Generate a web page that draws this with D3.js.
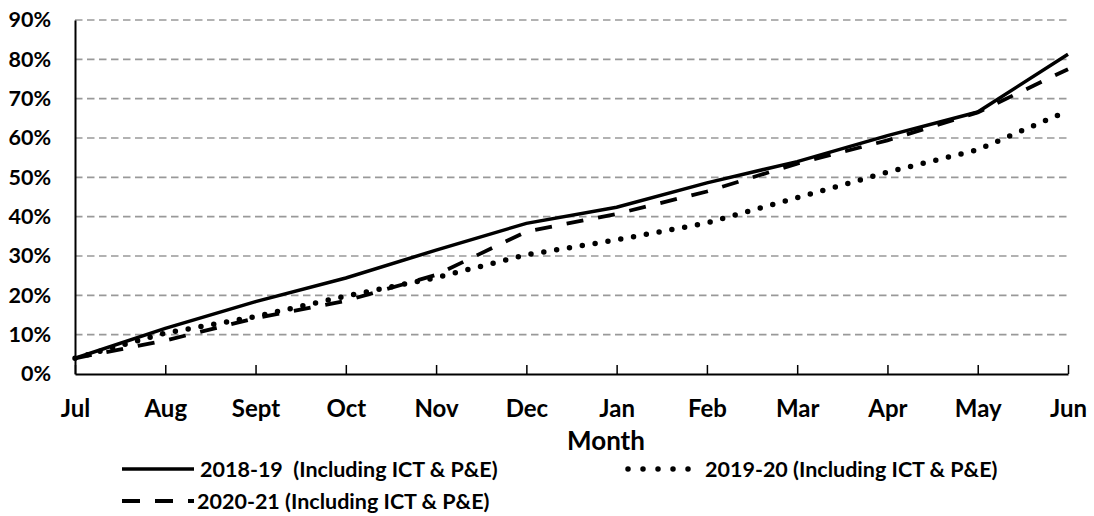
<!DOCTYPE html>
<html>
<head>
<meta charset="utf-8">
<script src="https://cdn.jsdelivr.net/npm/d3@7"></script>
<style>
  body { margin: 0; background: #fff; }
  text { font-family: Lato, "Liberation Sans", sans-serif; font-weight: bold; fill: #000; white-space: pre; }
</style>
</head>
<body>
<div id="chart"></div>
<script>
var months = ["Jul", "Aug", "Sept", "Oct", "Nov", "Dec", "Jan", "Feb", "Mar", "Apr", "May", "Jun"];
var s1819 = [0.04, 0.116, 0.184, 0.244, 0.315, 0.383, 0.424, 0.486, 0.54, 0.606, 0.666, 0.813];
var s1920 = [0.04, 0.104, 0.146, 0.198, 0.245, 0.303, 0.341, 0.384, 0.448, 0.513, 0.57, 0.669];
var s2021 = [0.04, 0.085, 0.142, 0.186, 0.252, 0.362, 0.407, 0.464, 0.535, 0.594, 0.665, 0.775];
var yTicks = [0, 0.1, 0.2, 0.3, 0.4, 0.5, 0.6, 0.7, 0.8, 0.9];
var seriesNames = ["2018-19  (Including ICT & P&E)", "2019-20 (Including ICT & P&E)", "2020-21 (Including ICT & P&E)"];

var width = 1094, height = 516;
var margin = { top: 20, right: 26, bottom: 142, left: 75 };
var w = width - margin.left - margin.right,
    h = height - margin.top - margin.bottom;

var svg = d3.select("#chart").append("svg")
    .attr("width", width)
    .attr("height", height);

var g = svg.append("g")
    .attr("transform", "translate(" + margin.left + "," + margin.top + ")");

var x = d3.scalePoint().domain(months).range([0, w]);
var y = d3.scaleLinear().domain([0, 0.9]).range([h, 0]);

// grid lines
g.selectAll(".grid")
  .data(yTicks.slice(1))
  .enter().append("line")
    .attr("x1", 0).attr("x2", w)
    .attr("y1", function(d) { return y(d); })
    .attr("y2", function(d) { return y(d); })
    .attr("stroke", "#999")
    .attr("stroke-width", 1.7)
    .attr("stroke-dasharray", "7.5,4.5");

// y axis
var yAxis = g.append("g")
    .call(d3.axisLeft(y).tickValues(yTicks).tickFormat(d3.format(".0%")).tickSize(0).tickPadding(24));
yAxis.select(".domain").attr("stroke", "#000").attr("stroke-width", 2);
yAxis.selectAll("text").style("font-size", "21.5px");

// x axis, ticks pointing up
var xAxis = g.append("g")
    .attr("transform", "translate(0," + h + ")")
    .call(d3.axisBottom(x).tickSizeInner(-9).tickSizeOuter(0).tickPadding(26));
xAxis.select(".domain").attr("stroke", "#000").attr("stroke-width", 2);
xAxis.selectAll(".tick line").attr("stroke", "#000").attr("stroke-width", 1.5);
xAxis.selectAll("text").style("font-size", "24px");

g.append("text")
    .attr("x", 606 - margin.left)
    .attr("y", 450 - margin.top)
    .attr("text-anchor", "middle")
    .style("font-size", "26px")
    .text("Month");

var line = d3.line()
    .x(function(d, i) { return x(months[i]); })
    .y(function(d) { return y(d); });

var styles = [
  { dash: null, cap: "butt", width: 3.5 },
  { dash: "0,13", cap: "round", width: 5.5 },
  { dash: "17,15", cap: "butt", width: 3.8 }
];
var allSeries = [s1819, s1920, s2021];

g.selectAll(".series")
  .data(allSeries)
  .enter().append("path")
    .attr("d", line)
    .attr("fill", "none")
    .attr("stroke", "#000")
    .attr("stroke-width", function(d, i) { return styles[i].width; })
    .attr("stroke-linecap", function(d, i) { return styles[i].cap; })
    .attr("stroke-dasharray", function(d, i) { return styles[i].dash; });

// legend
var legendPos = [
  { x: 122, y: 469, len: 72, gap: 6 },
  { x: 628, y: 469, len: 61, gap: 16 },
  { x: 122, y: 501, len: 72, gap: 3 }
];
var legendDash = [null, "0,15", "18,15"];

var legend = svg.selectAll(".legend")
  .data(seriesNames)
  .enter().append("g")
    .attr("transform", function(d, i) { return "translate(" + legendPos[i].x + "," + legendPos[i].y + ")"; });

legend.append("line")
    .attr("x1", 0)
    .attr("x2", function(d, i) { return legendPos[i].len; })
    .attr("stroke", "#000")
    .attr("stroke-width", function(d, i) { return styles[i].width; })
    .attr("stroke-linecap", function(d, i) { return styles[i].cap; })
    .attr("stroke-dasharray", function(d, i) { return legendDash[i]; });

legend.append("text")
    .attr("x", function(d, i) { return legendPos[i].len + legendPos[i].gap; })
    .attr("dy", "0.36em")
    .style("font-size", "21.5px")
    .text(function(d) { return d; });
</script>
</body>
</html>
